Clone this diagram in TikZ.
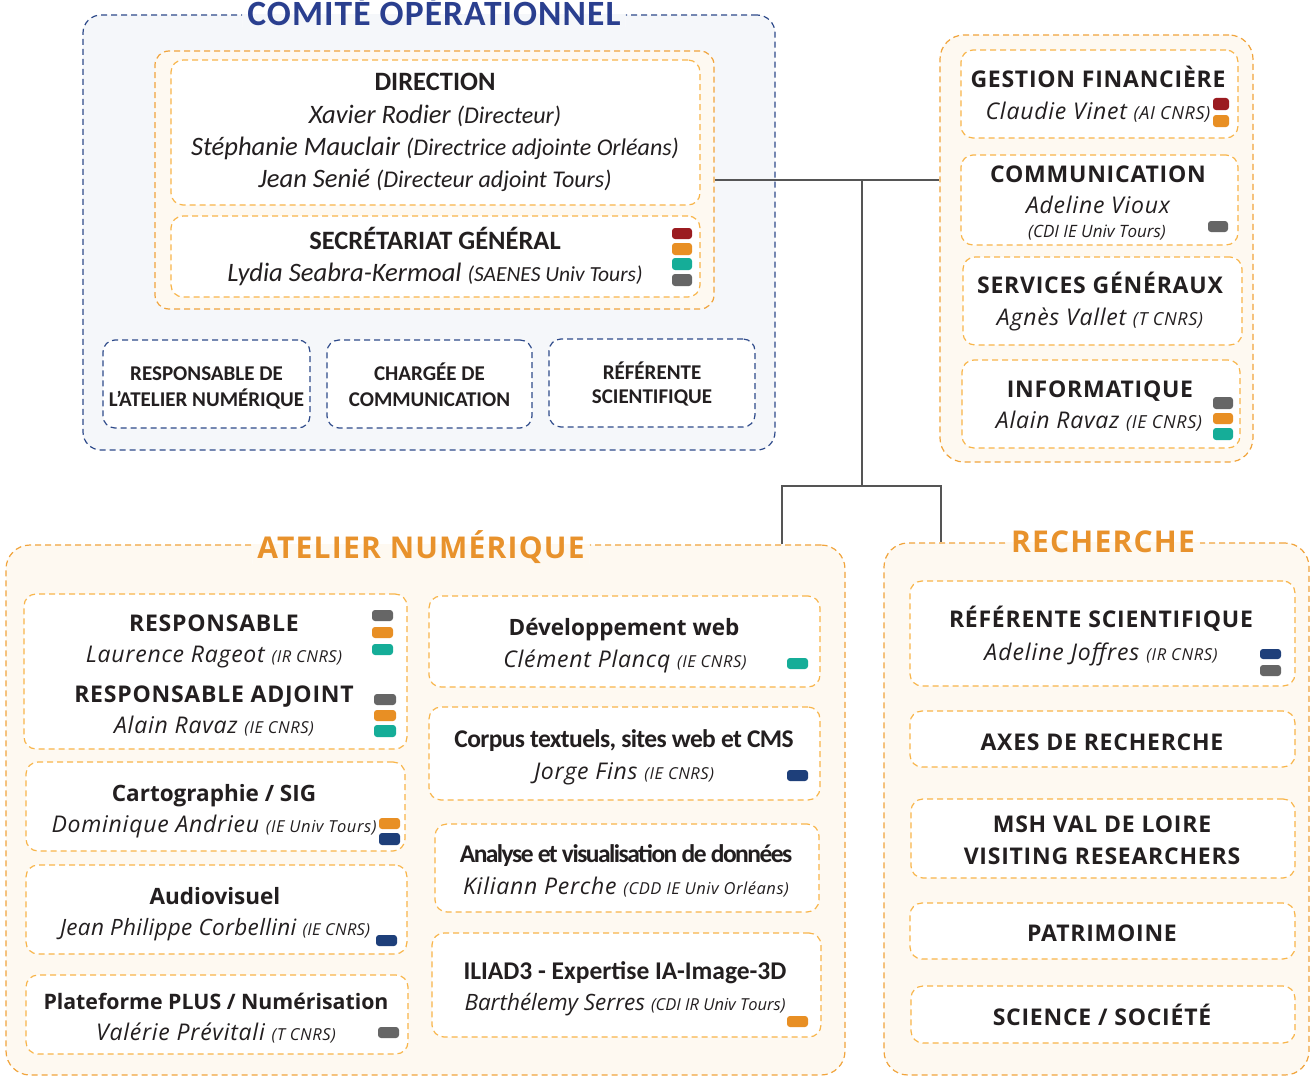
\documentclass[tikz,border=0pt]{standalone}
\usepackage{fontspec}
\setmainfont{Open Sans}
\newfontfamily\OS{Open Sans}
\newfontfamily\OSL{Open Sans}[LetterSpace=3.3]
\newfontfamily\OSN{Open Sans}[LetterSpace=3.3]
\newfontfamily\OSM{Open Sans}[LetterSpace=1.5]
\newfontfamily\OST{Open Sans}[LetterSpace=4]
\newfontfamily\CB{Carlito}
\newfontfamily\CBT{Carlito}[LetterSpace=3]
\newfontfamily\CBa{Carlito}[LetterSpace=-2.5]
\newfontfamily\CBb{Carlito}[LetterSpace=-6]
\usetikzlibrary{fit}
\definecolor{txt}{HTML}{231F20}
\definecolor{cblue}{HTML}{2A3F8F}
\definecolor{bline}{HTML}{2E4A8A}
\definecolor{bfill}{HTML}{F5F7FA}
\definecolor{oline}{HTML}{F8B54A}
\definecolor{ooline}{HTML}{F1A43C}
\definecolor{ofill}{HTML}{FEF9F1}
\definecolor{otitle}{HTML}{E8922C}
\definecolor{sred}{HTML}{9B1B20}
\definecolor{sorange}{HTML}{E88F24}
\definecolor{steal}{HTML}{15AD98}
\definecolor{sgray}{HTML}{666666}
\definecolor{sblue}{HTML}{1E3F7A}
\definecolor{connc}{HTML}{555555}
\newcommand\Sm[2]{{\fontsize{#1}{#1}\selectfont #2}}
\newcommand\sw[5]{\fill[#1, rounded corners=3pt] (#2,#3) rectangle (#4,#5);}
\tikzset{
  dashed box/.style={inner sep=0pt, line width=1.2pt, dash pattern=on 6pt off 4pt},
  bOuter/.style={dashed box, draw=bline, fill=bfill, rounded corners=18pt},
  bBox/.style={dashed box, draw=bline, fill=white, rounded corners=12pt},
  oOuter/.style={dashed box, draw=ooline, fill=ofill, rounded corners=24pt},
  oGroup/.style={dashed box, draw=ooline, fill=ofill, rounded corners=14pt},
  oBox/.style={dashed box, draw=oline, fill=white, rounded corners=12pt},
  tx/.style={inner sep=0pt, anchor=base, text=txt},
  hO/.style={tx, font=\OSL\bfseries\fontsize{23}{26}\selectfont},
  hM/.style={tx, font=\OS\bfseries\fontsize{22.5}{26}\selectfont},
  nO/.style={tx, font=\OSN\itshape\fontsize{23}{26}\selectfont},
  nP/.style={tx, font=\OS\itshape\fontsize{22.5}{26}\selectfont},
  hC/.style={tx, font=\CB\bfseries\fontsize{26.5}{28}\selectfont},
  nC/.style={tx, font=\CB\itshape\fontsize{26.6}{28}\selectfont},
  sC/.style={tx, font=\CB\bfseries\fontsize{21}{22}\selectfont},
  title/.style={inner xsep=5pt, inner ysep=1pt, anchor=base},
  split fill/.style 2 args={path picture={
      \fill[#1] (path picture bounding box.north west) rectangle (path picture bounding box.south east);
      \fill[#2] (path picture bounding box.south west) rectangle (path picture bounding box.east |- 0,#1 ysplit);}},
  otitle/.style={title, text=otitle, font=\OST\bfseries\fontsize{30}{30}\selectfont},
  conn/.style={draw=connc, line width=1.6pt}
}
\begin{document}
\begin{tikzpicture}[x=1pt,y=-1pt]
\useasboundingbox[fill=white] (0,0) rectangle (1310,1081);

% ---------------- Comite operationnel ----------------
\node[bOuter, fit={(83,15)(775,450)}] (comite) {};
\node[title, text=cblue, font=\CBT\bfseries\fontsize{35.5}{36}\selectfont,
      path picture={\fill[white] (path picture bounding box.north west) rectangle (path picture bounding box.south east);
                    \fill[bfill] (path picture bounding box.south west) rectangle (path picture bounding box.east |- comite.north);}]
      (tcomite) at (434,26) {COMITÉ OPÉRATIONNEL};
\node[oGroup, fit={(155,51)(714,309)}] (dirgrp) {};
\node[oBox, fit={(171,60)(700,205)}] (dir) {};
\node[oBox, fit={(171,216)(700,297)}] (secr) {};
\node[hC] (tdir) at (435,91) {DIRECTION};
\node[nC] (n1) at (435,123) {Xavier Rodier \Sm{24}{(Directeur)}};
\node[nC] (n2) at (435,155) {Stéphanie Mauclair \Sm{24}{(Directrice adjointe Orléans)}};
\node[nC] (n3) at (435,187) {Jean Senié \Sm{24}{(Directeur adjoint Tours)}};
\node[hC] (tsecr) at (435,249) {SECRÉTARIAT GÉNÉRAL};
\node[nC] (n4) at (435,281) {Lydia Seabra-Kermoal \Sm{21.5}{(SAENES Univ Tours)}};
\sw{sred}{672}{228}{692}{239}
\sw{sorange}{672}{243}{692}{255}
\sw{steal}{672}{258}{692}{270}
\sw{sgray}{672}{274}{692}{286}

\node[bBox, fit={(103,340)(310,428)}] (c1) {};
\node[bBox, fit={(327,340)(532,428)}] (c2) {};
\node[bBox, fit={(549,339)(755,427)}] (c3) {};
\node[sC] (c1a) at (206.5,380) {RESPONSABLE DE};
\node[sC] (c1b) at (206.5,406) {L’ATELIER NUMÉRIQUE};
\node[sC] (c2a) at (429.5,380) {CHARGÉE DE};
\node[sC] (c2b) at (429.5,406) {COMMUNICATION};
\node[sC] (c3a) at (652,379) {RÉFÉRENTE};
\node[sC] (c3b) at (652,403) {SCIENTIFIQUE};

% ---------------- Administration ----------------
\node[oOuter, fit={(940,35)(1253,462)}] (admin) {};
\node[oBox, fit={(961,50)(1238,138)}] (gest) {};
\node[oBox, fit={(961,155)(1238,245)}] (comm) {};
\node[oBox, fit={(963,257)(1242,345)}] (serv) {};
\node[oBox, fit={(962,360)(1240,448)}] (info) {};
\node[hO] (tgest) at (1098,88) {GESTION FINANCIÈRE};
\node[nO] (n5) at (1098,120) {Claudie Vinet \Sm{18}{(AI CNRS)}};
\node[hO] (tcomm) at (1098,182) {COMMUNICATION};
\node[nO] (n6) at (1098,213) {Adeline Vioux};
\node[tx, font=\OS\itshape\fontsize{17}{20}\selectfont] (n6b) at (1097,237) {(CDI IE Univ Tours)};
\node[hO] (tserv) at (1100,293) {SERVICES GÉNÉRAUX};
\node[nO] (n7) at (1100,325) {Agnès Vallet \Sm{18}{(T CNRS)}};
\node[hO] (tinfo) at (1100,397) {INFORMATIQUE};
\node[nO] (n8) at (1099,428) {Alain Ravaz \Sm{18}{(IE CNRS)}};
\sw{sred}{1213}{98}{1229}{110}
\sw{sorange}{1213}{115}{1229}{127}
\sw{sgray}{1208}{221}{1228}{232}
\sw{sgray}{1213}{397}{1233}{409}
\sw{sorange}{1213}{413}{1233}{424}
\sw{steal}{1213}{428}{1233}{440}

% ---------------- Atelier numerique ----------------
\node[oOuter, fit={(6,545)(845,1075)}] (atelier) {};
\node[otitle, path picture={\fill[white] (path picture bounding box.north west) rectangle (path picture bounding box.south east);
                    \fill[ofill] (path picture bounding box.south west) rectangle (path picture bounding box.east |- atelier.north);}]
      (tatel) at (421,558) {ATELIER NUMÉRIQUE};
\node[oBox, fit={(24,594)(407,749)}] (resp) {};
\node[oBox, fit={(26,762)(405,851)}] (carto) {};
\node[oBox, fit={(26,865)(407,954)}] (audio) {};
\node[oBox, fit={(26,975)(408,1054)}] (plat) {};
\node[oBox, fit={(429,596)(820,687)}] (dev) {};
\node[oBox, fit={(429,707)(820,800)}] (corpus) {};
\node[oBox, fit={(435,824)(819,912)}] (analyse) {};
\node[oBox, fit={(432,933)(821,1037)}] (iliad) {};
\node[hO] (tresp) at (214,631) {RESPONSABLE};
\node[nO] (n9) at (214,662) {Laurence Rageot \Sm{16.5}{(IR CNRS)}};
\node[hO] (tresp2) at (214,702) {RESPONSABLE ADJOINT};
\node[nO] (n10) at (214,733) {Alain Ravaz \Sm{16.5}{(IE CNRS)}};
\node[hM] (tcarto) at (214,801) {Cartographie / SIG};
\node[nO] (n11) at (214,832) {Dominique Andrieu \Sm{16.5}{(IE Univ Tours)}};
\node[hM] (taudio) at (215,904) {Audiovisuel};
\node[tx, font=\OSM\itshape\fontsize{22.5}{26}\selectfont] (n12) at (215,935) {Jean Philippe Corbellini \Sm{16.5}{(IE CNRS)}};
\node[hM, font=\OS\bfseries\fontsize{21.3}{26}\selectfont] (tplat) at (216,1009) {Plateforme PLUS / Numérisation};
\node[nO] (n13) at (216,1040) {Valérie Prévitali \Sm{16.5}{(T CNRS)}};
\node[hM] (tdev) at (624,635) {Développement web};
\node[nO] (n14) at (625,667) {Clément Plancq \Sm{16.5}{(IE CNRS)}};
\node[tx, font=\CBa\bfseries\fontsize{25.5}{28}\selectfont] (tcorp) at (624,747) {Corpus textuels, sites web et CMS};
\node[nO] (n15) at (624,779) {Jorge Fins \Sm{16.5}{(IE CNRS)}};
\node[tx, font=\CBb\bfseries\fontsize{25.5}{28}\selectfont] (tana) at (626,862) {Analyse et visualisation de données};
\node[nO] (n16) at (626,894) {Kiliann Perche \Sm{16.5}{(CDD IE Univ Orléans)}};
\node[tx, font=\CB\bfseries\fontsize{25.5}{28}\selectfont] (tili) at (625,979) {ILIAD3 - Expertise IA-Image-3D};
\node[nP] (n17) at (625,1010) {Barthélemy Serres \Sm{16.5}{(CDI IR Univ Tours)}};
\sw{sgray}{372}{610}{393}{621}
\sw{sorange}{372}{627}{393}{638}
\sw{steal}{372}{644}{393}{655}
\sw{sgray}{374}{694}{396}{705}
\sw{sorange}{374}{710}{396}{721}
\sw{steal}{374}{725}{396}{737}
\sw{sorange}{379}{818}{400}{829}
\sw{sblue}{379}{833}{400}{845}
\sw{sblue}{376}{935}{397}{946}
\sw{sgray}{378}{1027}{399}{1038}
\sw{steal}{787}{658}{808}{669}
\sw{sblue}{787}{770}{808}{781}
\sw{sorange}{787}{1016}{808}{1027}

% ---------------- Recherche ----------------
\node[oOuter, fit={(884,543)(1309,1075)}] (recherche) {};
\node[otitle, path picture={\fill[white] (path picture bounding box.north west) rectangle (path picture bounding box.south east);
                    \fill[ofill] (path picture bounding box.south west) rectangle (path picture bounding box.east |- recherche.north);}]
      (trech) at (1103,552) {RECHERCHE};
\node[oBox, fit={(910,581)(1295,686)}] (ref) {};
\node[oBox, fit={(910,711)(1295,767)}] (axes) {};
\node[oBox, fit={(911,799)(1295,878)}] (msh) {};
\node[oBox, fit={(910,903)(1295,959)}] (patri) {};
\node[oBox, fit={(911,986)(1295,1043)}] (sci) {};
\node[hO] (tref) at (1101,627) {RÉFÉRENTE SCIENTIFIQUE};
\node[nO, font=\OST\itshape\fontsize{23}{26}\selectfont] (n18) at (1101,660) {Adeline Joffres \Sm{16.5}{(IR CNRS)}};
\node[hO] (taxes) at (1102,750) {AXES DE RECHERCHE};
\node[hO] (tmsh) at (1102,832) {MSH VAL DE LOIRE};
\node[hO] (tmsh2) at (1102,864) {VISITING RESEARCHERS};
\node[hO] (tpatri) at (1102,941) {PATRIMOINE};
\node[hO] (tsci) at (1102,1025) {SCIENCE / SOCIÉTÉ};
\sw{sblue}{1260}{649}{1281}{659}
\sw{sgray}{1260}{665}{1281}{676}

% ---------------- Connectors ----------------
\coordinate (j1) at (862,181);
\coordinate (j2) at (862,486);
\coordinate (j3) at (782,486);
\coordinate (j4) at (941,486);
\draw[conn] (dirgrp.east) -- (dirgrp.east -| admin.west);
\draw[conn] (j1) -- (j2);
\draw[conn] (atelier.north -| j3) -- (j3) -- (j4) -- (recherche.north -| j4);
\end{tikzpicture}
\end{document}
